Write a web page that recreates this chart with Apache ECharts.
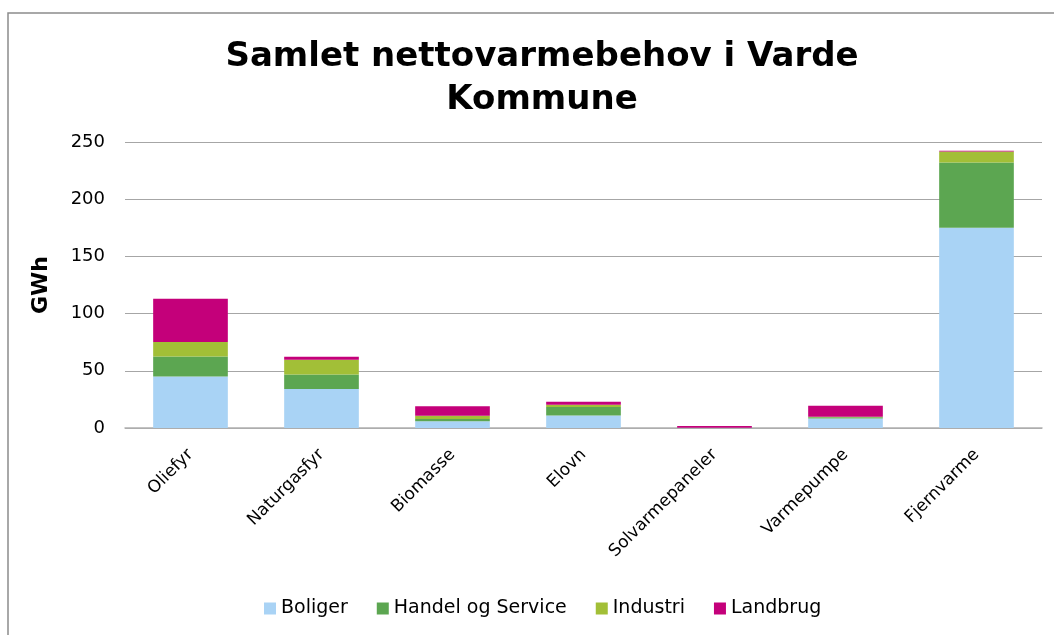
<!DOCTYPE html>
<html>
<head>
<meta charset="utf-8">
<script src="https://cdn.jsdelivr.net/npm/echarts@6/dist/echarts.min.js"></script>
<style>
  html, body { margin: 0; padding: 0; background: #fff; }
  #chart-container { width: 1054px; height: 635px; }
</style>
</head>
<body>
<div id="chart-container"></div>
<script>
const categories = ['Oliefyr', 'Naturgasfyr', 'Biomasse', 'Elovn', 'Solvarmepaneler', 'Varmepumpe', 'Fjernvarme'];
const boliger = [45, 34, 6, 11, 0.2, 8.4, 175];
const handel = [17.5, 12.8, 1.8, 7.3, 0.1, 0.9, 57];
const industri = [12.6, 12.8, 2.9, 2, 0, 0.6, 9.6];
const landbrug = [37.9, 2.7, 8.4, 2.6, 1.4, 9.6, 0.8];
const yTicks = [0, 50, 100, 150, 200, 250];

const chartContainer = document.getElementById('chart-container');
const myChart = echarts.init(chartContainer);

const font = 'Verdana, "DejaVu Sans", sans-serif';

const makeSeries = (name, data, color) => ({
    name: name,
    type: 'bar',
    stack: 'total',
    barCategoryGap: '43%',
    itemStyle: { color: color },
    emphasis: { disabled: true },
    data: data
});

const options = {
    backgroundColor: '#ffffff',
    animation: false,
    textStyle: { fontFamily: font },
    graphic: [{
        type: 'polyline',
        shape: { points: [[8, 640], [8, 13], [1060, 13]] },
        style: { stroke: '#8c8c8c', lineWidth: 1.5, fill: null }
    }],
    title: {
        text: 'Samlet nettovarmebehov i Varde\nKommune',
        left: 537,
        textAlign: 'center',
        top: 31,
        textStyle: {
            fontFamily: font,
            fontSize: 34,
            fontWeight: 'bold',
            color: '#000',
            lineHeight: 43
        }
    },
    legend: {
        bottom: 12,
        left: 259,
        itemWidth: 12,
        itemHeight: 12,
        itemGap: 29,
        icon: 'rect',
        textStyle: { fontFamily: font, fontSize: 19, color: '#000' }
    },
    grid: {
        left: 125,
        right: 12,
        top: 142,
        bottom: 207
    },
    xAxis: {
        type: 'category',
        data: categories,
        axisLine: { lineStyle: { color: '#b0b0b0', width: 1.5 } },
        axisTick: { show: false },
        axisLabel: {
            rotate: 45,
            fontSize: 17,
            color: '#000',
            margin: 24,
            interval: 0
        }
    },
    yAxis: {
        type: 'value',
        min: yTicks[0],
        max: yTicks[yTicks.length - 1],
        interval: 50,
        name: 'GWh',
        nameLocation: 'middle',
        nameGap: 73,
        nameTextStyle: { fontFamily: font, fontSize: 22, fontWeight: 'bold', color: '#000' },
        axisLine: { show: false },
        axisTick: { show: false },
        axisLabel: { fontSize: 18, color: '#000', margin: 20 },
        splitLine: { lineStyle: { color: '#a6a6a6', width: 1.2 } }
    },
    series: [
        makeSeries('Boliger', boliger, '#a9d3f5'),
        makeSeries('Handel og Service', handel, '#5ca651'),
        makeSeries('Industri', industri, '#a2bf37'),
        makeSeries('Landbrug', landbrug, '#c4007a')
    ]
};

myChart.setOption(options);

window.addEventListener('resize', function () {
    myChart.resize();
});
</script>
</body>
</html>
